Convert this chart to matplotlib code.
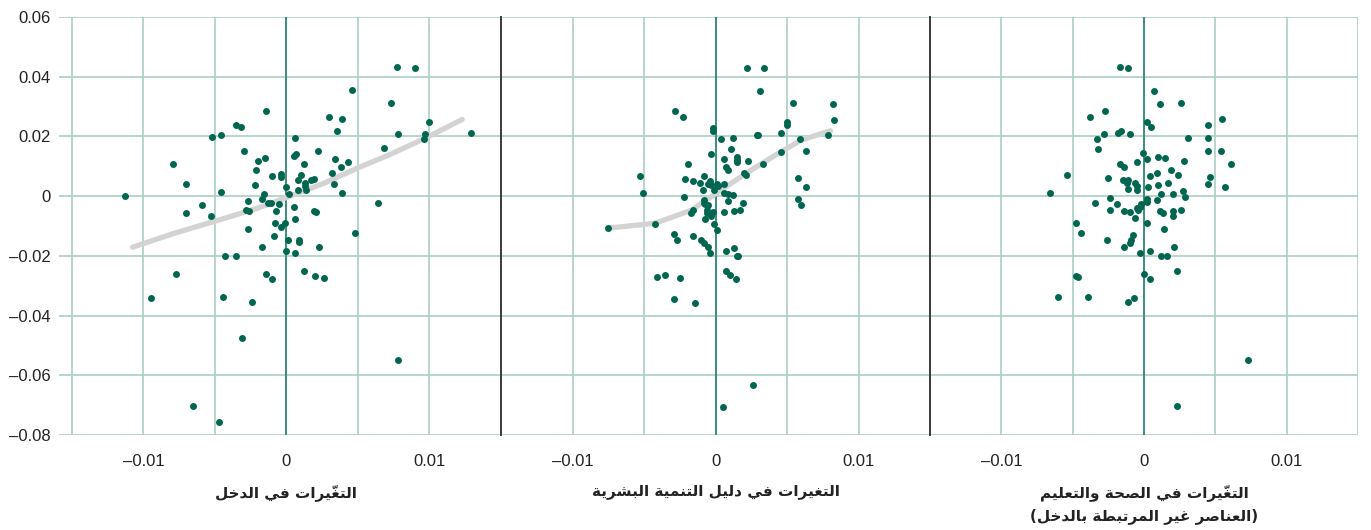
import numpy as np
import matplotlib
matplotlib.use("Agg")
import matplotlib.pyplot as plt
import matplotlib.transforms as mtransforms

plt.rcParams['font.family'] = ['Liberation Sans', 'DejaVu Sans']

# ---- data ----
inc_pts = [
    (-0.0113, 0.0000), (0.0077, 0.0432), (0.0090, 0.0430), (0.0046, 0.0354), (0.0073, 0.0313),
    (-0.0014, 0.0286), (-0.0035, 0.0239), (-0.0032, 0.0230), (0.0030, 0.0265), (0.0039, 0.0257),
    (0.0035, 0.0218), (0.0100, 0.0249), (0.0078, 0.0207), (0.0097, 0.0207), (0.0096, 0.0192),
    (0.0129, 0.0213), (0.0068, 0.0160), (-0.0052, 0.0197), (-0.0046, 0.0205), (0.0006, 0.0195),
    (-0.0030, 0.0150), (-0.0015, 0.0127), (-0.0020, 0.0118), (-0.0021, 0.0088), (-0.0079, 0.0108),
    (0.0005, 0.0133), (0.0007, 0.0142), (0.0022, 0.0152), (0.0012, 0.0108), (0.0034, 0.0124),
    (0.0043, 0.0115), (0.0038, 0.0097), (0.0032, 0.0078), (0.0033, 0.0040), (0.0039, 0.0012),
    (-0.0010, 0.0069), (-0.0004, 0.0073), (-0.0004, 0.0065), (0.0010, 0.0070), (0.0008, 0.0053),
    (0.0019, 0.0059), (0.0017, 0.0053), (0.0013, 0.0044), (0.0013, 0.0035), (0.0014, 0.0020),
    (0.0008, 0.0022), (0.0000, 0.0032), (0.0002, 0.0008), (-0.0022, 0.0037), (-0.0016, 0.0006),
    (-0.0017, -0.0011), (-0.0013, -0.0022), (-0.0011, -0.0022), (-0.0005, -0.0025), (-0.0027, -0.0015),
    (-0.0046, 0.0013), (-0.0070, 0.0042), (-0.0070, -0.0055), (-0.0059, -0.0029), (-0.0053, -0.0066),
    (-0.0028, -0.0046), (-0.0026, -0.0049), (-0.0027, -0.0109), (-0.0007, -0.0050), (0.0005, -0.0038),
    (0.0019, -0.0051), (0.0021, -0.0053), (0.0006, -0.0075), (-0.0008, -0.0090), (-0.0001, -0.0089),
    (-0.0004, -0.0104), (-0.0009, -0.0132), (0.0001, -0.0146), (0.0009, -0.0146), (0.0009, -0.0155),
    (0.0064, -0.0022), (0.0048, -0.0125), (-0.0017, -0.0171), (0.0023, -0.0171), (0.0000, -0.0184),
    (0.0006, -0.0189), (-0.0043, -0.0200), (-0.0035, -0.0201), (-0.0077, -0.0261), (-0.0014, -0.0262),
    (-0.0010, -0.0277), (0.0012, -0.0250), (0.0020, -0.0269), (0.0026, -0.0274), (-0.0095, -0.0342),
    (-0.0044, -0.0339), (-0.0024, -0.0356), (-0.0031, -0.0475), (0.0078, -0.0548), (-0.0065, -0.0703),
    (-0.0047, -0.0757),
]
hdi_pts = [
    (0.0022, 0.0430), (0.0034, 0.0428), (0.0031, 0.0352), (0.0054, 0.0312), (0.0082, 0.0307),
    (0.0083, 0.0256), (0.0079, 0.0204), (-0.0028, 0.0285), (-0.0023, 0.0264), (-0.0002, 0.0229),
    (-0.0002, 0.0219), (0.0004, 0.0191), (0.0012, 0.0195), (0.0011, 0.0157), (0.0029, 0.0205),
    (0.0030, 0.0205), (0.0046, 0.0211), (0.0050, 0.0248), (0.0050, 0.0238), (0.0059, 0.0193),
    (0.0046, 0.0147), (0.0063, 0.0150), (-0.0003, 0.0141), (0.0006, 0.0126), (0.0015, 0.0131),
    (0.0015, 0.0122), (0.0015, 0.0114), (0.0023, 0.0117), (0.0033, 0.0107), (0.0007, 0.0096),
    (0.0009, 0.0088), (-0.0019, 0.0106), (0.0020, 0.0076), (0.0021, 0.0070), (-0.0053, 0.0068),
    (-0.0051, 0.0011), (-0.0021, 0.0058), (-0.0016, 0.0050), (-0.0011, 0.0043), (-0.0008, 0.0068),
    (-0.0004, 0.0051), (-0.0005, 0.0040), (-0.0003, 0.0036), (-0.0009, 0.0020), (0.0001, 0.0041),
    (0.0002, 0.0034), (0.0006, 0.0039), (-0.0001, 0.0020), (0.0006, 0.0012), (0.0009, 0.0006),
    (0.0012, 0.0004), (0.0058, 0.0061), (0.0063, 0.0029), (0.0058, -0.0008), (0.0060, -0.0030),
    (-0.0022, -0.0004), (-0.0008, -0.0013), (-0.0008, -0.0022), (-0.0007, -0.0025), (-0.0005, -0.0029),
    (0.0009, -0.0016), (0.0019, -0.0023), (-0.0006, -0.0045), (-0.0006, -0.0055), (-0.0002, -0.0054),
    (-0.0003, -0.0067), (-0.0016, -0.0045), (-0.0017, -0.0056), (0.0006, -0.0053), (0.0013, -0.0050),
    (0.0017, -0.0048), (-0.0007, -0.0076), (-0.0001, -0.0093), (0.0001, -0.0112), (-0.0042, -0.0093),
    (-0.0075, -0.0106), (-0.0029, -0.0127), (-0.0027, -0.0147), (-0.0016, -0.0133), (-0.0010, -0.0148),
    (-0.0008, -0.0157), (-0.0005, -0.0172), (-0.0004, -0.0191), (0.0007, -0.0185), (0.0013, -0.0173),
    (0.0015, -0.0199), (0.0016, -0.0202), (0.0007, -0.0251), (0.0010, -0.0264), (0.0014, -0.0278),
    (-0.0041, -0.0271), (-0.0035, -0.0264), (-0.0025, -0.0275), (-0.0029, -0.0344), (-0.0014, -0.0358),
    (0.0026, -0.0633), (0.0005, -0.0706),
]
nonincome_pts = [
    (-0.0017, 0.0432), (-0.0011, 0.0429), (0.0007, 0.0353), (0.0011, 0.0308), (0.0026, 0.0313),
    (-0.0038, 0.0265), (-0.0027, 0.0285), (0.0002, 0.0249), (0.0005, 0.0230), (0.0045, 0.0239),
    (0.0055, 0.0257), (-0.0028, 0.0208), (-0.0033, 0.0191), (-0.0018, 0.0213), (-0.0016, 0.0218),
    (-0.0010, 0.0207), (0.0031, 0.0195), (0.0045, 0.0194), (-0.0032, 0.0158), (0.0045, 0.0152),
    (0.0054, 0.0150), (-0.0001, 0.0143), (0.0002, 0.0124), (0.0010, 0.0132), (0.0015, 0.0127),
    (0.0028, 0.0118), (0.0061, 0.0108), (-0.0005, 0.0116), (-0.0017, 0.0108), (-0.0014, 0.0097),
    (-0.0054, 0.0070), (-0.0066, 0.0012), (-0.0025, 0.0060), (0.0009, 0.0078), (0.0004, 0.0068),
    (0.0019, 0.0089), (0.0024, 0.0071), (0.0046, 0.0064), (0.0045, 0.0041), (0.0057, 0.0031),
    (-0.0015, 0.0054), (-0.0011, 0.0054), (-0.0012, 0.0043), (-0.0011, 0.0023), (-0.0006, 0.0043),
    (-0.0005, 0.0034), (-0.0005, 0.0020), (0.0003, 0.0031), (0.0010, 0.0037), (0.0017, 0.0044),
    (0.0027, 0.0016), (0.0029, -0.0003), (0.0012, 0.0007), (0.0020, 0.0006), (-0.0024, -0.0007),
    (-0.0034, -0.0022), (-0.0019, -0.0025), (-0.0024, -0.0046), (-0.0014, -0.0051), (-0.0010, -0.0053),
    (-0.0005, -0.0041), (-0.0003, -0.0036), (-0.0002, -0.0025), (-0.0004, -0.0047), (0.0002, -0.0009),
    (0.0002, -0.0021), (0.0009, -0.0013), (0.0011, -0.0050), (0.0013, -0.0056), (0.0020, -0.0049),
    (0.0020, -0.0065), (0.0026, -0.0046), (-0.0006, -0.0074), (0.0002, -0.0090), (0.0014, -0.0110),
    (-0.0048, -0.0090), (-0.0044, -0.0125), (-0.0026, -0.0146), (-0.0008, -0.0131), (-0.0009, -0.0147),
    (-0.0010, -0.0156), (-0.0014, -0.0171), (-0.0003, -0.0189), (0.0004, -0.0184), (0.0021, -0.0170),
    (0.0012, -0.0201), (0.0016, -0.0199), (0.0023, -0.0250), (-0.0048, -0.0268), (-0.0046, -0.0272),
    (0.0000, -0.0261), (0.0004, -0.0276), (-0.0060, -0.0339), (-0.0039, -0.0339), (-0.0011, -0.0355),
    (-0.0007, -0.0342), (0.0073, -0.0548), (0.0023, -0.0702),
]

# fitted trend lines
inc_fit_x = [-0.01075, -0.00788, -0.00438, -0.00205, 0.00005, 0.00261, 0.00506, 0.00727, 0.0100, 0.01229]
inc_fit_y = [-0.0171, -0.0125, -0.0075, -0.0041, -0.0004, 0.0043, 0.0096, 0.0140, 0.0201, 0.0257]
hdi_fit_x = [-0.0075, -0.00424, -0.00168, 0.00019, 0.00229, 0.00438, 0.00601, 0.00804]
hdi_fit_y = [-0.0107, -0.0091, -0.0047, 0.0014, 0.0081, 0.0143, 0.0188, 0.0219]

x_ticks = [-0.01, 0, 0.01]
x_tick_labels = ['\u20130.01', '0', '0.01']
y_ticks = [-0.08, -0.06, -0.04, -0.02, 0, 0.02, 0.04, 0.06]
y_tick_labels = ['\u20130.08', '\u20130.06', '\u20130.04', '\u20130.02', '0', '0.02', '0.04', '0.06']
grid_x = [-0.015, -0.01, -0.005, 0, 0.005, 0.01, 0.015]

labels = [
    'التغيّرات في الدخل',
    'التغيرات في دليل التنمية البشرية',
    'التغيّرات في الصحة والتعليم\n(العناصر غير المرتبطة بالدخل)',
]

# ---- minimal arabic shaping (presentation forms, visual order) ----
FORMS = {
    'ا': (0xFE8D, False), 'ب': (0xFE8F, True), 'ة': (0xFE93, False), 'ت': (0xFE95, True),
    'ح': (0xFEA1, True), 'خ': (0xFEA5, True), 'د': (0xFEA9, False), 'ر': (0xFEAD, False),
    'ش': (0xFEB5, True), 'ص': (0xFEB9, True), 'ط': (0xFEC1, True), 'ع': (0xFEC9, True),
    'غ': (0xFECD, True), 'ف': (0xFED1, True), 'ل': (0xFEDD, True), 'م': (0xFEE1, True),
    'ن': (0xFEE5, True), 'و': (0xFEED, False), 'ي': (0xFEF1, True),
}


def shape_line(s):
    clusters = []
    for ch in s:
        if '\u064b' <= ch <= '\u0652' and clusters:
            clusters[-1] += ch
        else:
            clusters.append(ch)
    out = []
    for i, c in enumerate(clusters):
        b = c[0]
        if b not in FORMS:
            out.append(c)
            continue
        base, dual = FORMS[b]
        prev = clusters[i - 1][0] if i > 0 else ''
        nxt = clusters[i + 1][0] if i + 1 < len(clusters) else ''
        jp = prev in FORMS and FORMS[prev][1]
        jn = dual and nxt in FORMS
        if jp and jn:
            f = base + 3
        elif jp:
            f = base + 1
        elif jn:
            f = base + 2
        else:
            f = base
        out.append(chr(f) + c[1:])
    mirror = {'(': ')', ')': '('}
    return ''.join(''.join(mirror.get(ch, ch) for ch in c) for c in reversed(out))


def shape(s):
    return '\n'.join(shape_line(l) for l in s.split('\n'))


# ---- figure ----
W, H = 1371, 530
fig = plt.figure(figsize=(W / 100, H / 100), dpi=100)
bottom, height = 95 / H, 418 / H
ax1 = fig.add_axes([59 / W, bottom, 442 / W, height])
ax2 = fig.add_axes([501 / W, bottom, 429 / W, height])
ax3 = fig.add_axes([930 / W, bottom, 428 / W, height])
axes = [ax1, ax2, ax3]

grid_c = '#a9cfc4'
zero_c = '#1b7b68'
dot_c = '#00664f'

for i, (ax, pts) in enumerate(zip(axes, [inc_pts, hdi_pts, nonincome_pts])):
    px, py = zip(*pts)
    ax.set_ylim(-0.08, 0.06)
    ax.set_xlim(-0.0159 if i == 0 else -0.015, 0.015)
    for gx in grid_x:
        ax.axvline(gx, color=grid_c, lw=1.2, zorder=1)
    for gy in y_ticks:
        ax.axhline(gy, color=grid_c, lw=1.2, zorder=1)
    ax.axvline(0, color=zero_c, lw=1.1, zorder=1.5)
    ax.scatter(px, py, s=25, color=dot_c, linewidths=0, zorder=3)
    ax.set_xticks(x_ticks)
    ax.set_xticklabels(x_tick_labels, fontsize=12, color='#222222')
    ax.set_yticks(y_ticks)
    if i == 0:
        ax.set_yticklabels(y_tick_labels, fontsize=12, color='#222222')
    else:
        ax.set_yticklabels([])
    ax.tick_params(axis='both', length=0)
    ax.tick_params(axis='x', pad=14)
    ax.tick_params(axis='y', pad=6)
    for sp in ax.spines.values():
        sp.set_visible(False)
    if i > 0:
        ax.spines['left'].set_visible(True)
        ax.spines['left'].set_color('#3a3a3a')
        ax.spines['left'].set_linewidth(1.4)
        ax.spines['left'].set_zorder(4)
    trans = mtransforms.blended_transform_factory(ax.transData, ax.transAxes)
    ax.text(0, -0.117, shape(labels[i]), transform=trans, ha='center', va='top',
            fontsize=11, fontweight='bold', family=['DejaVu Sans Condensed', 'DejaVu Sans'],
            color='#222222', linespacing=1.6)

ax1.plot(inc_fit_x, inc_fit_y, color='#d3d3d3', lw=3.8, solid_capstyle='round', zorder=2)
ax2.plot(hdi_fit_x, hdi_fit_y, color='#d3d3d3', lw=3.8, solid_capstyle='round', zorder=2)

fig.savefig('out.png', dpi=100)
